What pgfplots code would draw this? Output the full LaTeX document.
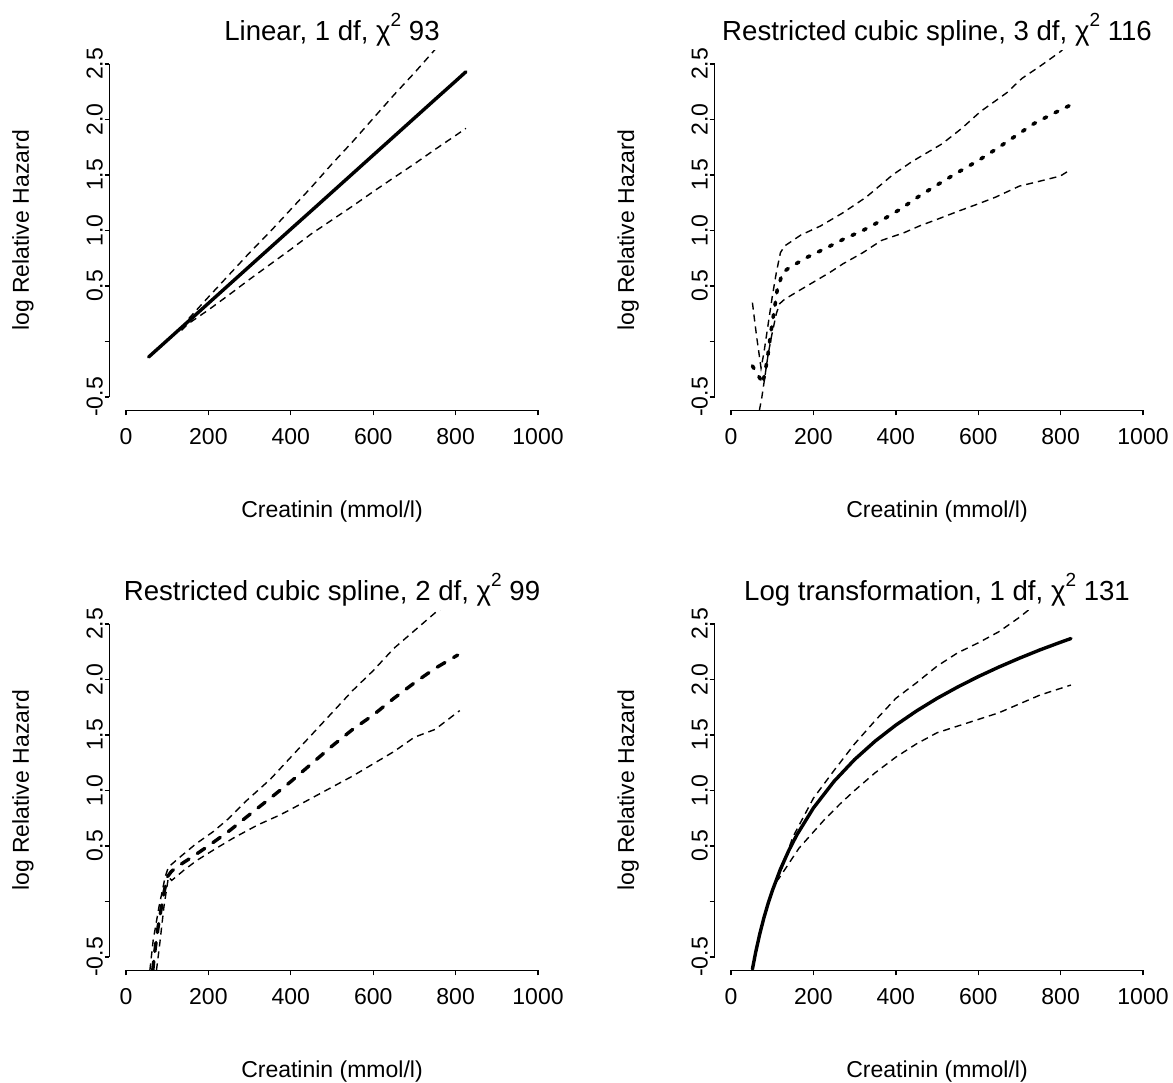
\documentclass[border=0pt]{standalone}
\usepackage{fontspec}
\setmainfont{Liberation Sans}
\usepackage{pgfplots}
\pgfplotsset{compat=1.18}
\newcommand\lbl{\fontsize{23}{27}\selectfont}
\newcommand\ttl{\fontsize{27.6}{32}\selectfont}
\newcommand\chisq{χ\raisebox{0.52em}{\fontsize{19}{19}\selectfont 2}}
\pgfplotsset{rstyle/.style={
  scale only axis, width=445pt, height=359.6pt,
  xmin=-40, xmax=1040, ymin=-0.62, ymax=2.62,
  axis x line*=bottom, axis y line*=left,
  axis line style={draw=none},
  xtick={0,200,400,600,800,1000}, xticklabels={0,200,400,600,800,1000},
  ytick={-0.5,0,0.5,1,1.5,2,2.5}, yticklabels={-0.5,,0.5,1.0,1.5,2.0,2.5},
  tick align=outside, major tick length=5pt,
  every tick/.style={black, line width=1.4pt},
  tick label style={font=\lbl},
  xticklabel style={anchor=base, yshift=-29.7pt},
  yticklabel style={rotate=90, anchor=base, yshift=2pt},
  clip mode=individual,
  title style={font=\ttl, at={(axis description cs:0.5,1)}, anchor=base, yshift=3.7pt},
  xlabel style={font=\lbl, at={(axis description cs:0.5,0)}, anchor=base, yshift=-107.7pt},
  ylabel style={font=\lbl, at={(axis description cs:0,0.5)}, anchor=base, yshift=80.5pt},
  xlabel={Creatinin (mmol/l)}, ylabel={log Relative Hazard},
  ci/.style={black, line width=1.4pt, dash pattern=on 7pt off 5pt},
  main/.style={black, line width=3.4pt, line cap=round, line join=round},
}}
\newcommand\raxes{%
  \draw[line width=1.5pt] (axis cs:0,-0.62) -- (axis cs:1000,-0.62);
  \draw[line width=1.5pt] (axis cs:-40,-0.5) -- (axis cs:-40,2.5);}
\begin{document}
\begin{tikzpicture}[x=1pt,y=1pt]
\useasboundingbox (0,0) rectangle (1173,1083);
% Panel 1
\begin{axis}[rstyle, at={(109.5pt,672.7pt)}, anchor=south west,
  title={Linear, 1 df, \chisq\ 93}]
\raxes
\addplot[main] coordinates {(55,-0.14) (100,0.01) (150,0.177) (200,0.344) (250,0.511) (300,0.678) (350,0.845) (400,1.012) (450,1.178) (500,1.345) (550,1.512) (600,1.679) (650,1.846) (700,2.013) (750,2.18) (800,2.346) (825,2.43)};
\addplot[ci] coordinates {(135,0.12) (150,0.197) (200,0.40) (250,0.60) (300,0.80) (350,0.99) (400,1.19) (450,1.39) (500,1.60) (550,1.80) (600,2.01) (650,2.22) (700,2.42) (750,2.63) (760,2.67)};
\addplot[ci] coordinates {(135,0.10) (150,0.157) (200,0.284) (250,0.42) (300,0.56) (350,0.695) (400,0.83) (450,0.97) (500,1.095) (550,1.22) (600,1.35) (650,1.476) (700,1.60) (750,1.73) (800,1.856) (825,1.92)};
\end{axis}
% Panel 2
\begin{axis}[rstyle, at={(714.5pt,672.7pt)}, anchor=south west,
  title={Restricted cubic spline, 3 df, \chisq\ 116}]
\raxes
\addplot[main, line width=3.6pt, dash pattern=on 3pt off 9.5pt] coordinates {(52,-0.22) (60,-0.27) (70,-0.33) (77,-0.38) (83,-0.27) (89,-0.14) (97,0.09) (105,0.28) (112,0.46) (118,0.53) (125,0.62) (140,0.66) (180,0.75) (230,0.84) (272,0.92) (320,1.00) (365,1.09) (410,1.19) (457,1.31) (500,1.41) (549,1.52) (600,1.63) (642,1.73) (690,1.85) (734,1.96) (780,2.05) (824,2.13)};
\addplot[ci] coordinates {(52,0.35) (62,0.05) (73,-0.24) (80,-0.10) (90,0.15) (100,0.40) (110,0.62) (120,0.80) (130,0.86) (170,0.96) (217,1.04) (272,1.16) (328,1.30) (392,1.50) (439,1.62) (512,1.78) (560,1.92) (605,2.07) (669,2.24) (706,2.37) (750,2.48) (799,2.61) (810,2.65)};
\addplot[ci] coordinates {(69,-0.62) (75,-0.50) (81,-0.35) (90,-0.12) (98,0.04) (110,0.25) (118,0.34) (130,0.38) (166,0.46) (239,0.62) (272,0.70) (320,0.80) (365,0.91) (420,0.98) (457,1.04) (500,1.10) (549,1.17) (600,1.24) (642,1.30) (700,1.40) (734,1.43) (799,1.49) (825,1.55)};
\end{axis}
% Panel 3
\begin{axis}[rstyle, at={(109.5pt,112.7pt)}, anchor=south west,
  title={Restricted cubic spline, 2 df, \chisq\ 99}]
\raxes
\addplot[main, dash pattern=on 9pt off 10pt] coordinates {(65,-0.62) (70,-0.45) (78,-0.23) (90,0.04) (100,0.22) (110,0.27) (123,0.31) (160,0.40) (196,0.49) (252,0.64) (309,0.81) (350,0.93) (400,1.08) (450,1.24) (500,1.40) (550,1.55) (600,1.68) (650,1.83) (700,1.97) (750,2.10) (805,2.22)};
\addplot[ci] coordinates {(58,-0.62) (66,-0.35) (80,-0.05) (95,0.22) (103,0.31) (131,0.40) (170,0.52) (212,0.63) (250,0.75) (293,0.91) (350,1.10) (400,1.30) (450,1.50) (500,1.70) (550,1.90) (600,2.08) (650,2.28) (700,2.44) (750,2.60) (770,2.65)};
\addplot[ci] coordinates {(74,-0.62) (82,-0.38) (92,-0.05) (103,0.22) (111,0.19) (140,0.28) (172,0.37) (215,0.47) (260,0.57) (320,0.69) (374,0.78) (400,0.83) (450,0.93) (500,1.03) (550,1.13) (600,1.24) (650,1.35) (700,1.48) (750,1.55) (810,1.72)};
\end{axis}
% Panel 4
\begin{axis}[rstyle, at={(714.5pt,112.7pt)}, anchor=south west,
  title={Log transformation, 1 df, \chisq\ 131}]
\raxes
\addplot[main] coordinates {(52,-0.61) (60,-0.456) (70,-0.29) (80,-0.146) (90,-0.019) (100,0.094) (120,0.291) (140,0.457) (160,0.601) (200,0.842) (250,1.082) (300,1.279) (350,1.445) (400,1.589) (450,1.716) (500,1.830) (550,1.932) (600,2.026) (650,2.112) (700,2.192) (750,2.267) (800,2.336) (825,2.369)};
\addplot[ci] coordinates {(110,0.20) (120,0.26) (150,0.58) (200,0.93) (250,1.18) (300,1.42) (350,1.63) (400,1.83) (450,1.97) (500,2.12) (550,2.24) (600,2.33) (650,2.43) (700,2.56) (720,2.62) (730,2.66)};
\addplot[ci] coordinates {(110,0.18) (115,0.20) (165,0.48) (225,0.73) (265,0.88) (300,1.0) (350,1.16) (400,1.3) (450,1.42) (500,1.52) (550,1.58) (600,1.64) (650,1.70) (700,1.78) (750,1.86) (825,1.95)};
\end{axis}
\end{tikzpicture}
\end{document}
